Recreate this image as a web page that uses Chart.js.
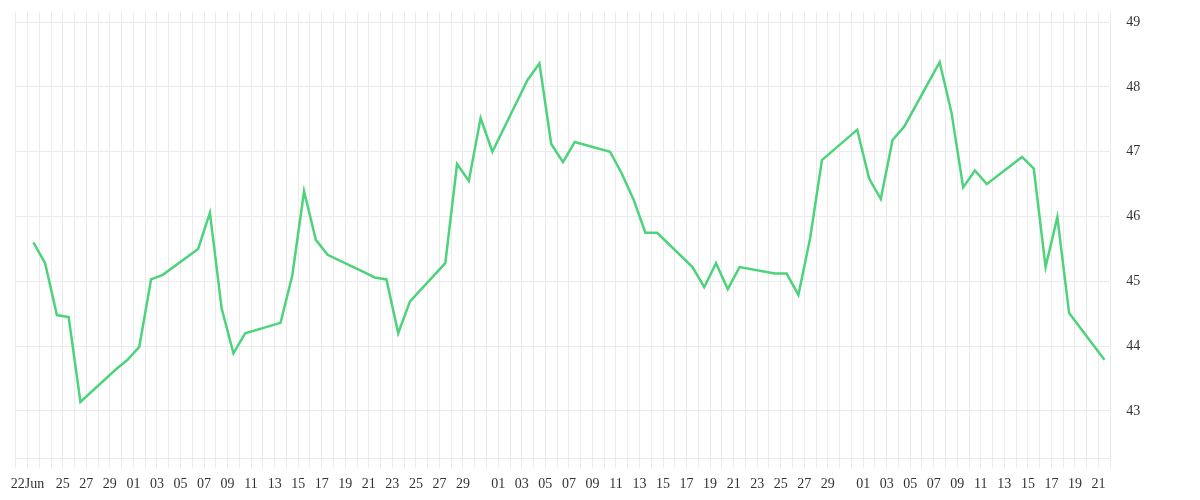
<!DOCTYPE html>
<html>
<head>
<meta charset="utf-8">
<script src="https://cdn.jsdelivr.net/npm/chart.js@4/dist/chart.umd.min.js"></script>
<style>
  html, body { margin: 0; padding: 0; background: #fff; }
  #chart { display: block; }
</style>
</head>
<body>
<canvas id="chart" width="1200" height="500"></canvas>
<script>
// trading days (2020) and closing values
var dates = [
  '06-22','06-23','06-24','06-25','06-26','06-29','06-30',
  '07-01','07-02','07-03','07-06','07-07','07-08','07-09','07-10',
  '07-13','07-14','07-15','07-16','07-17','07-20','07-21','07-22','07-23','07-24',
  '07-27','07-28','07-29','07-30','07-31',
  '08-03','08-04','08-05','08-06','08-07','08-10','08-11','08-12','08-13','08-14',
  '08-17','08-18','08-19','08-20','08-21','08-24','08-25','08-26','08-27','08-28','08-31',
  '09-01','09-02','09-03','09-04','09-07','09-08','09-09','09-10','09-11',
  '09-14','09-15','09-16','09-17','09-18','09-21'
];
var values = [
  45.60, 45.28, 44.48, 44.45, 43.14, 43.64, 43.79,
  43.99, 45.03, 45.10, 45.50, 46.06, 44.58, 43.89, 44.20,
  44.36, 45.09, 46.39, 45.64, 45.41, 45.15, 45.06, 45.03, 44.20, 44.69,
  45.28, 46.81, 46.55, 47.52, 47.00,
  48.11, 48.36, 47.12, 46.84, 47.15, 47.00, 46.66, 46.26, 45.75, 45.75,
  45.22, 44.91, 45.28, 44.88, 45.22, 45.12, 45.12, 44.79, 45.67, 46.87, 47.34,
  46.59, 46.27, 47.18, 47.39, 48.38, 47.61, 46.45, 46.71, 46.50,
  46.92, 46.74, 45.22, 45.99, 44.51, 43.79
];

// x axis runs from Jun 21 to Sep 22, one grid line per day
var year = 2020;
var axisStart = '06-21';
var axisEnd = '09-22';
var tickDates = [
  '06-22','06-25','06-27','06-29',
  '07-01','07-03','07-05','07-07','07-09','07-11','07-13','07-15','07-17','07-19',
  '07-21','07-23','07-25','07-27','07-29',
  '08-01','08-03','08-05','08-07','08-09','08-11','08-13','08-15','08-17','08-19',
  '08-21','08-23','08-25','08-27','08-29',
  '09-01','09-03','09-05','09-07','09-09','09-11','09-13','09-15','09-17','09-19','09-21'
];
var monthNames = ['Jan','Feb','Mar','Apr','May','Jun','Jul','Aug','Sep','Oct','Nov','Dec'];
var yTicks = [43, 44, 45, 46, 47, 48, 49];

function toDay(s) {
  var p = s.split('-');
  var t = Date.UTC(year, +p[0] - 1, +p[1]);
  var p0 = axisStart.split('-');
  return Math.round((t - Date.UTC(year, +p0[0] - 1, +p0[1])) / 86400000);
}

var tickText = {};
tickDates.forEach(function (d, i) {
  var p = d.split('-');
  tickText[toDay(d)] = i === 0 ? p[1] + monthNames[+p[0] - 1] : p[1];
});

var points = [];
for (var i = 0; i < dates.length; i++) {
  points.push({ x: toDay(dates[i]) + 0.5, y: values[i] });
}

var gridColor = '#ebebeb';
var labelFont = { family: '"Liberation Serif", "DejaVu Serif", serif', size: 14 };

new Chart(document.getElementById('chart'), {
  type: 'line',
  data: {
    datasets: [{
      data: points,
      borderColor: '#4cd37b',
      borderWidth: 2.5,
      pointRadius: 0,
      tension: 0,
      fill: false
    }]
  },
  options: {
    responsive: false,
    animation: false,
    layout: { padding: { left: 15.7, top: 11.7, right: 0, bottom: 0 } },
    plugins: { legend: { display: false }, tooltip: { enabled: false } },
    scales: {
      x: {
        type: 'linear',
        min: 0,
        max: toDay(axisEnd),
        afterBuildTicks: function (axis) {
          var t = [];
          for (var d = axis.min; d <= axis.max; d++) t.push({ value: d });
          axis.ticks = t;
        },
        afterFit: function (axis) {
          axis.height = 41.7;
          axis.paddingLeft = 0;
          axis.paddingRight = 0;
        },
        grid: { color: gridColor, tickLength: 10 },
        border: { color: gridColor },
        ticks: {
          autoSkip: false,
          maxRotation: 0,
          padding: 8,
          color: '#333',
          font: labelFont,
          callback: function (v) { return tickText[v] || ''; }
        }
      },
      y: {
        position: 'right',
        min: 42.27,
        max: 49.16,
        afterBuildTicks: function (axis) {
          axis.ticks = yTicks.map(function (v) { return { value: v }; });
        },
        afterFit: function (axis) {
          axis.width = 89.7;
          axis.paddingTop = 0;
          axis.paddingBottom = 0;
        },
        grid: { color: gridColor, drawTicks: false },
        border: { display: false },
        ticks: {
          padding: 16,
          color: '#333',
          font: labelFont
        }
      }
    }
  }
});
</script>
</body>
</html>
